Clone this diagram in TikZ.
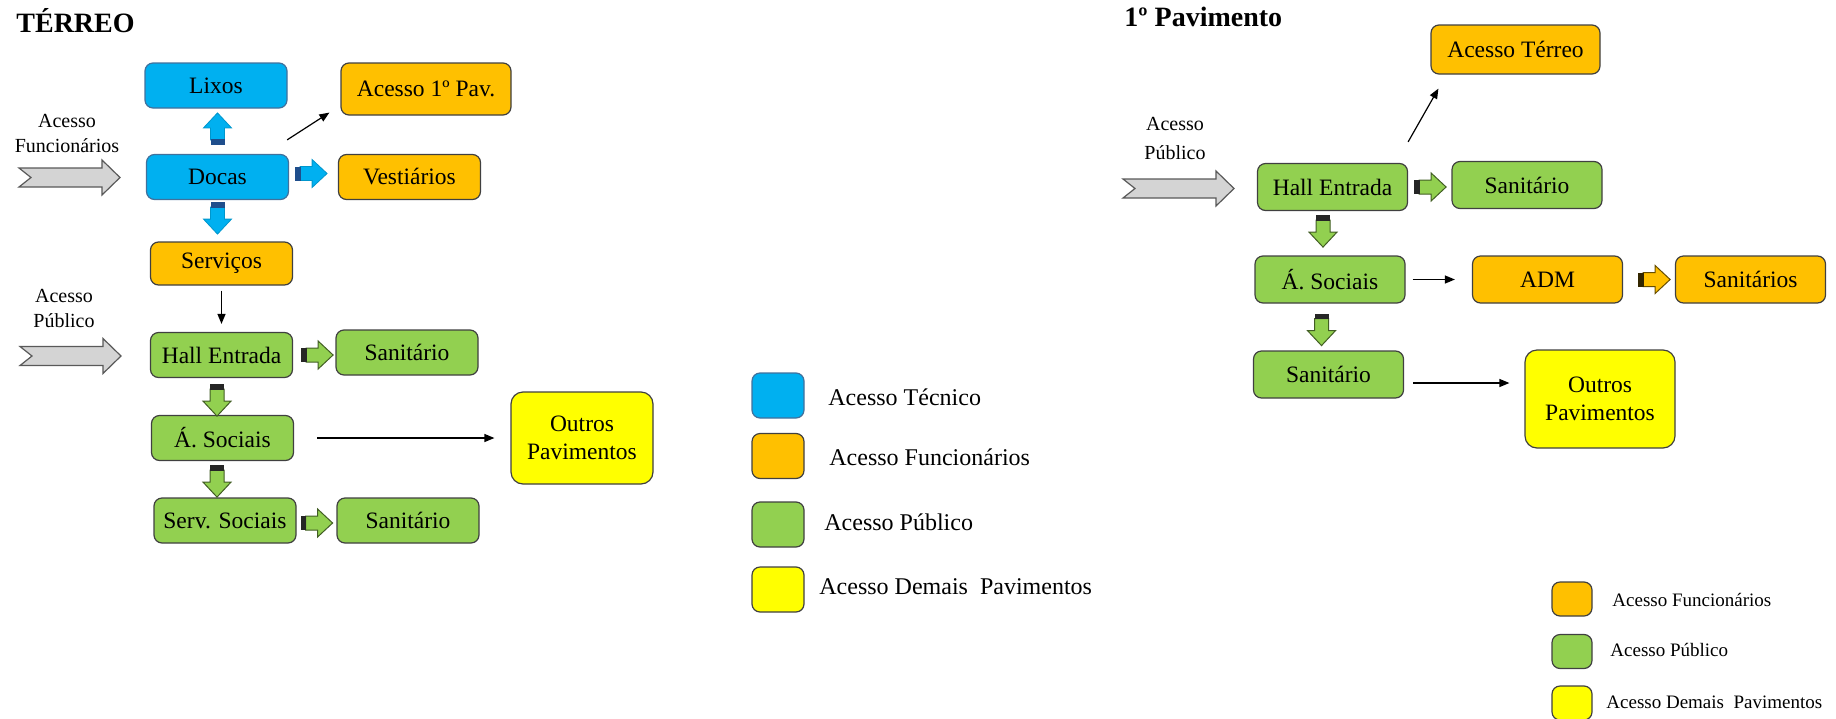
\documentclass[tikz,border=0pt]{standalone}
\usepackage{fontspec}
\setmainfont{Liberation Serif}
\usetikzlibrary{arrows.meta, calc}

\definecolor{tecblue}{RGB}{0,176,240}
\definecolor{tecline}{RGB}{65,113,156}
\definecolor{tecdark}{RGB}{31,78,140}
\definecolor{funorange}{RGB}{255,192,0}
\definecolor{pubgreen}{RGB}{146,208,80}
\definecolor{demyellow}{RGB}{255,255,0}
\definecolor{boxline}{RGB}{64,64,64}
\definecolor{entrygray}{RGB}{212,212,212}

% block arrow: colour prefix, anchor, gap, angle
\newcommand{\blockarrow}[4]{%
  \begin{scope}[shift={(#2)}, rotate=#4]
    \filldraw[#1arrow] (#3+5,-7) -- (#3+17,-7) -- (#3+17,-14) -- (#3+32,0)
      -- (#3+17,14) -- (#3+17,7) -- (#3+5,7) -- cycle;
    \fill[#1stripe] (#3,-7) rectangle (#3+5.5,7);
  \end{scope}}

% notched entry arrow: start coordinate, length
\newcommand{\entryarrow}[2]{%
  \filldraw[entry] (#1) ++(0,-9.5) -- ++(#2-18,0) -- ++(0,-8) -- ++(18,17.5)
    -- ++(-18,17.5) -- ++(0,-8) -- ++(-#2+18,0) -- ++(12,-9.5) -- cycle;}

\begin{document}
\begin{tikzpicture}[
  x=0.5pt, y=-0.5pt,
  box/.style={
    rectangle, rounded corners=4pt, line width=0.6pt, draw=boxline,
    inner sep=0pt, align=center,
    minimum width=71pt, minimum height=22.5pt,
    font=\fontsize{11.75}{14}\selectfont
  },
  wide/.style={minimum width=75pt, minimum height=23.5pt},
  tec/.style={box, fill=tecblue, draw=tecline},
  fun/.style={box, fill=funorange},
  pub/.style={box, fill=pubgreen},
  dem/.style={box, fill=demyellow, rounded corners=6pt},
  legbox/.style={minimum width=26pt, minimum height=22.5pt, font=\small},
  smallbox/.style={minimum width=20pt, minimum height=17pt, font=\small},
  legtext/.style={anchor=west, inner sep=0pt, font=\fontsize{12}{14}\selectfont},
  smalltext/.style={anchor=west, inner sep=0pt, font=\fontsize{9.5}{11}\selectfont},
  title/.style={anchor=base west, inner sep=0pt, font=\fontsize{14}{16}\selectfont\bfseries},
  note/.style={align=center, inner sep=0pt, font=\fontsize{10}{12.5}\selectfont},
  thinarrow/.style={-{Triangle[length=5pt, width=4pt]}, line width=0.6pt},
  tecarrow/.style={fill=tecblue, draw=tecblue!85!black, line width=0.4pt},
  tecstripe/.style={fill=tecdark},
  pubarrow/.style={fill=pubgreen, draw=pubgreen!45!black, line width=0.5pt},
  pubstripe/.style={fill=black!85},
  funarrow/.style={fill=funorange, draw=funorange!40!black, line width=0.5pt},
  funstripe/.style={fill=black!80!funorange},
  entry/.style={fill=entrygray, draw=black!65, line width=0.6pt},
]
  \useasboundingbox (0,0) rectangle (1836,718);

  % -------------------------------------------------------
  %  Terreo
  % -------------------------------------------------------
  \node[title] (terreo) at (16,32) {TÉRREO};

  \node[tec] (lixos) at (216,85.5) {Lixos};
  \node[fun, minimum width=85pt, minimum height=26pt] (acc1) at (426,89) {Acesso 1º Pav.};
  \node[tec] (docas) at (217.5,177) {Docas};
  \node[fun] (vest) at (409.5,177) {Vestiários};
  \node[fun, minimum height=21.5pt] (serv) at (221.5,263.5) {Serviços};
  \node[pub] (hall) at (221.5,355) {Hall Entrada};
  \node[pub] (sanA) at (407,352.5) {Sanitário};
  \node[pub] (soc) at (222.5,438) {Á. Sociais};
  \node[dem, minimum height=46pt] (outA) at (582,438) {Outros\\Pavimentos};
  \node[pub] (servsoc) at (225,520.5) {Serv. Sociais};
  \node[pub] (sanB) at (408,520.5) {Sanitário};

  \node[note] (lblfun) at (67,133) {Acesso\\Funcionários};
  \node[note] (lblpub) at (64,308) {Acesso\\Público};
  \coordinate (inF) at (19,177.5);
  \coordinate (inP) at (20,356);
  \entryarrow{inF}{101}
  \entryarrow{inP}{101}

  \blockarrow{tec}{docas.north}{9}{90}
  \blockarrow{tec}{[yshift=1.75pt]docas.east}{6}{0}
  \blockarrow{tec}{docas.south}{2}{-90}
  \blockarrow{pub}{hall.east}{8}{0}
  \blockarrow{pub}{[xshift=-2.25pt]hall.south}{6}{-90}
  \blockarrow{pub}{[xshift=-2.75pt]soc.south}{4}{-90}
  \blockarrow{pub}{[yshift=-1.25pt]servsoc.east}{4}{0}

  \draw[thinarrow] ($(docas.north east)+(-2,-14)$) -- ($(acc1.south west)+(-11,-3)$);
  \draw[thinarrow, shorten <=2.5pt, shorten >=4pt] (serv) -- (hall);
  \draw[thinarrow, shorten <=11.5pt, shorten >=8pt] (soc) -- (outA);

  % legend
  \node[tec, legbox] (legA) at (778,395.5) {};
  \node[fun, legbox] (legB) at (778,456) {};
  \node[pub, legbox] (legC) at (778,524.5) {};
  \node[dem, legbox, rounded corners=4pt] (legD) at (778,589.5) {};
  \node[legtext] (legAt) at (828,397) {Acesso Técnico};
  \node[legtext] (legBt) at (829,457) {Acesso Funcionários};
  \node[legtext] (legCt) at (824,522) {Acesso Público};
  \node[legtext] (legDt) at (819,587) {Acesso Demais~ Pavimentos};

  % -------------------------------------------------------
  %  1o Pavimento
  % -------------------------------------------------------
  \node[title] (pav1) at (1124,26) {1º Pavimento};

  \node[fun, minimum width=84.5pt, minimum height=24.5pt] (accT) at (1515.5,49.5) {Acesso Térreo};
  \node[pub, wide] (hallR) at (1332.5,187) {Hall Entrada};
  \node[pub, wide] (sanR) at (1527,185) {Sanitário};
  \node[pub, wide] (socR) at (1330,279.5) {Á. Sociais};
  \node[fun, wide] (adm) at (1547.5,279.5) {ADM};
  \node[fun, wide] (sanitR) at (1750.5,279.5) {Sanitários};
  \node[pub, wide] (sanS) at (1328.5,374.5) {Sanitário};
  \node[dem, wide, minimum height=49pt] (outR) at (1600,399) {Outros\\Pavimentos};

  \node[note, font=\fontsize{10}{14.5}\selectfont] (lblpubR) at (1175,138) {Acesso\\Público};
  \coordinate (inR) at (1123,188.5);
  \entryarrow{inR}{111}

  \blockarrow{pub}{hallR.east}{6}{0}
  \blockarrow{pub}{[xshift=-4.75pt]hallR.south}{4}{-90}
  \blockarrow{fun}{adm.east}{15}{0}
  \blockarrow{pub}{[xshift=-4.25pt]socR.south}{10}{-90}

  \draw[thinarrow] ($(hallR.north east)+(0,-21)$) -- ($(accT.south west)+(8,14)$);
  \draw[thinarrow, shorten <=3.5pt, shorten >=8.5pt] (socR) -- (adm);
  \draw[thinarrow] ($(sanS.east)+(9,8.5)$) -- ($(outR.west)+(-15,-16)$);

  % legend
  \node[fun, smallbox] (legE) at (1572,599) {};
  \node[pub, smallbox] (legF) at (1572,651.5) {};
  \node[dem, smallbox, rounded corners=4pt] (legG) at (1572,703) {};
  \node[smalltext] (legEt) at (1612,600) {Acesso Funcionários};
  \node[smalltext] (legFt) at (1610,650) {Acesso Público};
  \node[smalltext] (legGt) at (1606,702) {Acesso Demais~ Pavimentos};

\end{tikzpicture}
\end{document}
